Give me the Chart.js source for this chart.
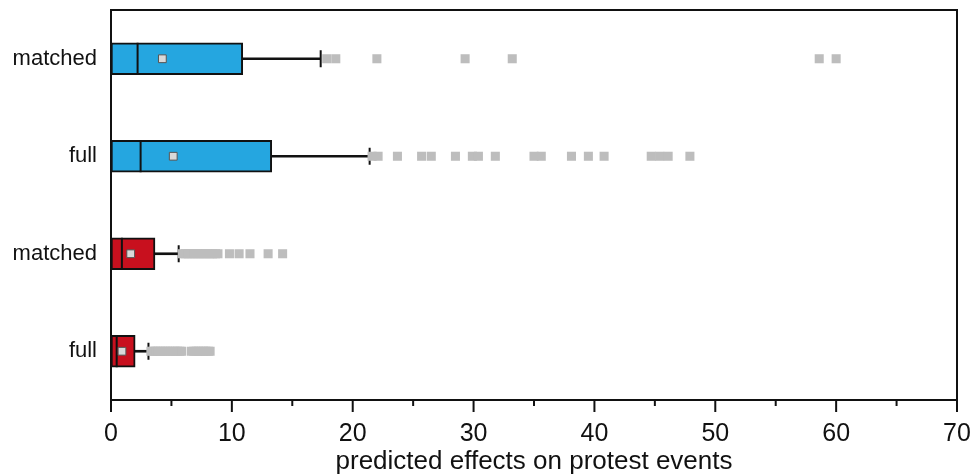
<!DOCTYPE html>
<html>
<head>
<meta charset="utf-8">
<script src="https://cdn.jsdelivr.net/npm/chart.js@4"></script>
<style>
  html, body { margin: 0; padding: 0; background: #fff; }
  #wrap { width: 972px; height: 474px; }
</style>
</head>
<body>
<div id="wrap"><canvas id="myChart" width="972" height="474"></canvas></div>
<script>
// rows from top to bottom
const categories = ['matched', 'full', 'matched', 'full']
const box_colors = ['#25a6e0', '#25a6e0', '#c8101e', '#c8101e']
const q1 = [0, 0, 0, 0]
const median = [2.2, 2.45, 0.9, 0.47]
const q3 = [10.9, 13.3, 3.64, 2.0]
const whisker_high = [17.35, 21.4, 5.6, 3.1]
const mean = [4.25, 5.15, 1.63, 0.91]
const outliers = [
  [17.85, 18.6, 22.0, 29.3, 33.2, 58.6, 60.0],
  [21.6, 22.1, 23.7, 25.7, 26.5, 28.5, 29.9, 30.4, 31.8, 35.0, 35.6, 38.1, 39.5, 40.8, 44.7, 45.4, 46.1, 47.9],
  [5.9, 6.15, 6.4, 6.65, 6.9, 7.15, 7.4, 7.65, 7.9, 8.15, 8.4, 8.65, 8.85, 9.8, 10.6, 11.5, 13.0, 14.2],
  [3.3, 3.5, 3.7, 3.9, 4.1, 4.3, 4.5, 4.7, 4.9, 5.1, 5.3, 5.5, 5.7, 5.85, 6.65, 6.85, 7.05, 7.25, 7.45, 7.65, 7.85, 8.05, 8.2]
]
const x_ticks = [0, 10, 20, 30, 40, 50, 60, 70]
const x_title = 'predicted effects on protest events'

const row = (i) => i + 1
const BOX_H = 32

let outlier_points = []
for (let i = 0; i < outliers.length; i++) {
  for (let j = 0; j < outliers[i].length; j++) {
    outlier_points.push({x: outliers[i][j], y: row(i)})
  }
}

// median lines go right on top of the boxes
const medianPlugin = {
  id: 'medians',
  afterDatasetDraw(chart, args) {
    if (args.meta.label !== 'box') return
    const ctx = chart.ctx
    const xs = chart.scales.x
    const ys = chart.scales.y
    ctx.save()
    ctx.strokeStyle = '#111'
    ctx.lineWidth = 2
    for (let i = 0; i < median.length; i++) {
      const px = xs.getPixelForValue(median[i])
      const py = ys.getPixelForValue(row(i))
      ctx.beginPath()
      ctx.moveTo(px, py - BOX_H / 2)
      ctx.lineTo(px, py + BOX_H / 2)
      ctx.stroke()
    }
    ctx.restore()
  }
}

// frame round the plot and the tick marks under the x axis
const framePlugin = {
  id: 'frame',
  afterDraw(chart) {
    const ctx = chart.ctx
    const a = chart.chartArea
    const xs = chart.scales.x
    ctx.save()
    ctx.strokeStyle = '#111'
    ctx.lineWidth = 2
    ctx.strokeRect(a.left, a.top, a.right - a.left, a.bottom - a.top)
    for (let v = 0; v <= 70; v += 5) {
      const px = xs.getPixelForValue(v)
      const len = v % 10 === 0 ? 12 : 6
      ctx.beginPath()
      ctx.moveTo(px, a.bottom)
      ctx.lineTo(px, a.bottom + len)
      ctx.stroke()
    }
    ctx.restore()
  }
}

const data = {
  datasets: [
    {
      type: 'scatter',
      label: 'mean',
      data: mean.map((m, i) => ({x: m, y: row(i)})),
      pointStyle: 'rect',
      pointRadius: 5.5,
      backgroundColor: '#d9d9d9',
      borderColor: '#555',
      borderWidth: 1
    },
    {
      type: 'scatter',
      label: 'outliers',
      data: outlier_points,
      pointStyle: 'rect',
      pointRadius: 6.4,
      backgroundColor: '#bdbdbd',
      borderWidth: 0
    },
    {
      type: 'scatter',
      label: 'caps',
      data: whisker_high.map((w, i) => ({x: w, y: row(i)})),
      pointStyle: 'line',
      rotation: 90,
      pointRadius: 8.5,
      borderColor: '#111',
      borderWidth: 2
    },
    {
      type: 'bar',
      label: 'box',
      data: q3.map((q, i) => ({x: [q1[i], q], y: row(i)})),
      backgroundColor: box_colors,
      borderColor: '#111',
      borderWidth: 2,
      borderSkipped: false,
      barThickness: BOX_H,
      grouped: false
    },
    {
      type: 'bar',
      label: 'whisker',
      data: q3.map((q, i) => ({x: [q, whisker_high[i]], y: row(i)})),
      backgroundColor: '#111',
      borderWidth: 0,
      barThickness: 2,
      grouped: false
    }
  ]
}

const config = {
  type: 'bar',
  data: data,
  options: {
    indexAxis: 'y',
    responsive: false,
    animation: false,
    events: [],
    layout: { autoPadding: false, padding: { top: 10, right: 15, left: 0, bottom: 0 } },
    plugins: { legend: { display: false }, tooltip: { enabled: false } },
    scales: {
      x: {
        type: 'linear',
        min: 0,
        max: 70,
        grid: { display: false, drawTicks: false },
        border: { display: false },
        afterBuildTicks: (s) => { s.ticks = x_ticks.map(v => ({value: v})) },
        afterFit: (s) => {
          s.height = 74
          s.paddingLeft = 0
          s.paddingRight = 0
        },
        ticks: {
          color: '#111',
          padding: 19,
          maxRotation: 0,
          font: { family: 'Liberation Sans, Arial, sans-serif', size: 25 }
        },
        title: {
          display: true,
          text: x_title,
          color: '#111',
          padding: { top: 0, bottom: -3 },
          font: { family: 'Liberation Sans, Arial, sans-serif', size: 26 }
        }
      },
      y: {
        type: 'linear',
        reverse: true,
        offset: false,
        min: 0.5,
        max: 4.5,
        grid: { display: false, drawTicks: false },
        border: { display: false },
        afterBuildTicks: (s) => { s.ticks = categories.map((c, i) => ({value: row(i)})) },
        afterFit: (s) => {
          s.width = 111
          s.paddingTop = 0
          s.paddingBottom = 0
        },
        ticks: {
          color: '#111',
          padding: 14,
          callback: (v) => categories[v - 1],
          font: { family: 'Liberation Sans, Arial, sans-serif', size: 22 }
        }
      }
    }
  },
  plugins: [medianPlugin, framePlugin]
}

const myChart = new Chart(document.getElementById('myChart'), config)
</script>
</body>
</html>
